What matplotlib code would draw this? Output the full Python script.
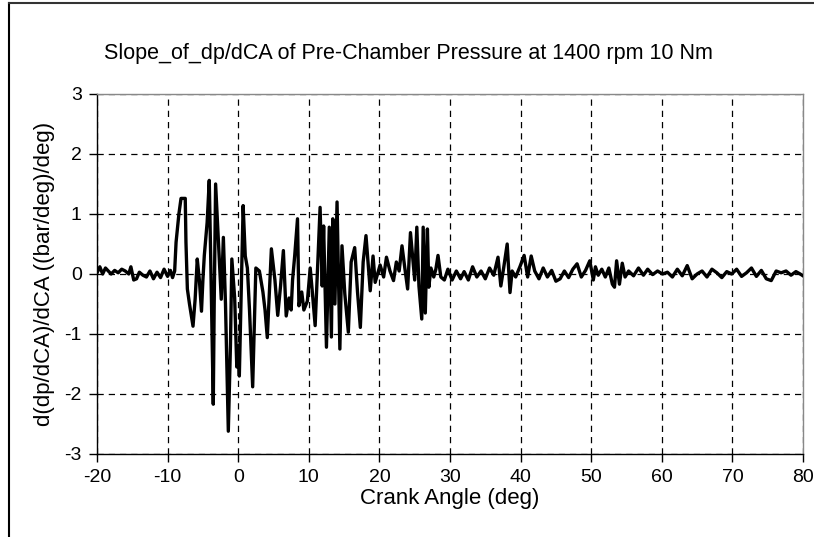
import matplotlib
matplotlib.use("Agg")
import matplotlib.pyplot as plt
from matplotlib.lines import Line2D

plt.rcParams['font.family'] = ['Liberation Sans', 'DejaVu Sans']

title = "Slope_of_dp/dCA of Pre-Chamber Pressure at 1400 rpm 10 Nm"
x_label = "Crank Angle (deg)"
y_label = "d(dp/dCA)/dCA ((bar/deg)/deg)"
x_ticks = [-20, -10, 0, 10, 20, 30, 40, 50, 60, 70, 80]
y_ticks = [-3, -2, -1, 0, 1, 2, 3]

crank_angle = [
    -20.0, -19.6, -19.2, -18.8, -18.4, -18.0, -17.5, -17.0, -16.5, -16.0,
    -15.5, -15.2, -14.8, -14.4, -14.0, -13.5, -13.0, -12.5, -12.0, -11.5,
    -11.0, -10.5, -10.0, -9.6, -9.3, -9.0, -8.8, -8.4, -8.1, -7.5,
    -7.4, -7.2, -6.9, -6.4, -6.1, -5.8, -5.5, -5.2, -5.0,
    -4.8, -4.4, -4.1, -3.9, -3.53, -3.4, -3.2, -2.9, -2.7, -2.4,
    -2.1, -1.8, -1.4, -1.1, -0.9, -0.5, -0.2, 0.0, 0.16, 0.45,
    0.7, 1.0, 1.3, 1.6, 2.05, 2.5, 3.0, 3.5, 3.8, 4.12,
    4.7, 5.2, 5.6, 6.0, 6.4, 6.8, 7.2, 7.5, 7.7, 8.0,
    8.4, 8.6, 9.0, 9.3, 9.8, 10.2, 10.5, 10.9, 11.2, 11.6,
    11.9, 12.1, 12.5, 12.9, 13.2, 13.4, 13.7, 14.0, 14.4, 14.7,
    15.1, 15.6, 16.0, 16.5, 16.9, 17.3, 17.7, 18.1, 18.7, 19.1,
    19.4, 20.1, 20.6, 21.0, 21.5, 22.0, 22.4, 22.8, 23.2, 23.6,
    24.0, 24.4, 25.0, 25.3, 25.6, 26.0, 26.2, 26.5, 26.8, 27.0,
    27.3, 27.7, 28.0, 28.3, 28.7, 29.2, 29.7, 30.3, 30.9, 31.5,
    32.0, 32.6, 33.2, 33.8, 34.4, 35.0, 35.6, 36.2, 36.8, 37.2,
    37.6, 38.1, 38.5, 38.8, 39.3, 39.9, 40.5, 41.0, 41.5, 42.0,
    42.6, 43.2, 43.8, 44.4, 45.0, 45.6, 46.2, 46.8, 47.4, 48.0,
    48.6, 49.2, 49.8, 50.3, 50.6, 51.0, 51.5, 52.0, 52.5, 53.0,
    53.3, 53.6, 54.0, 54.4, 54.8, 55.3, 56.0, 56.7, 57.4, 58.0,
    58.7, 59.4, 60.1, 60.8, 61.5, 62.2, 62.9, 63.6, 64.3, 65.0,
    65.7, 66.4, 67.1, 67.8, 68.5, 69.2, 69.9, 70.6, 71.3, 72.0,
    72.7, 73.4, 74.1, 74.8, 75.5, 76.2, 76.9, 77.6, 78.3, 79.0,
    79.6, 80.0,
]

slope = [
    0.02, 0.12, 0.00, 0.10, 0.05, 0.00, 0.06, 0.02, 0.08, 0.05,
    0.00, 0.12, -0.10, -0.08, 0.03, -0.02, -0.05, 0.05, -0.08, 0.03,
    -0.06, 0.08, -0.04, 0.06, -0.06, 0.05, 0.53, 1.00, 1.26, 1.26,
    0.53, -0.25, -0.50, -0.87, -0.42, 0.25, -0.10, -0.62, -0.10,
    0.31, 0.86, 1.56, 0.30, -2.17, -0.50, 1.50, 0.80, 0.30, -0.42,
    0.61, -0.50, -2.62, -1.20, 0.25, -0.40, -1.55, -1.20, -1.70, -0.20,
    1.14, 0.30, 0.10, -0.60, -1.88, 0.10, 0.05, -0.30, -0.60, -1.06,
    0.42, -0.10, -0.69, -0.20, 0.39, -0.70, -0.40, -0.60, -0.10, 0.30,
    0.92, -0.53, -0.30, -0.60, -0.45, 0.10, -0.30, -0.86, 0.00, 1.11,
    -0.20, 0.80, -1.22, 0.78, -1.05, 0.92, -0.50, 1.20, -1.25, 0.47,
    -0.33, -0.97, 0.20, 0.44, -0.30, -0.89, 0.20, 0.64, -0.28, 0.30,
    -0.14, 0.15, -0.05, 0.28, 0.05, -0.11, 0.20, 0.05, 0.47, 0.10,
    -0.25, 0.69, -0.10, 0.78, -0.20, -0.75, 0.78, -0.65, 0.75, -0.22,
    0.10, -0.05, 0.08, 0.31, -0.05, -0.10, 0.08, -0.10, 0.05, -0.08,
    0.04, -0.10, 0.12, -0.05, 0.05, -0.08, 0.10, -0.02, 0.28, -0.20,
    0.10, 0.50, -0.31, 0.05, -0.05, 0.12, 0.31, -0.05, 0.30, 0.05,
    -0.08, 0.10, -0.05, 0.06, -0.12, -0.08, 0.05, -0.06, 0.08, 0.17,
    -0.05, 0.06, 0.22, -0.10, 0.12, -0.02, 0.08, -0.05, 0.10, -0.17,
    -0.22, 0.22, -0.17, 0.18, -0.05, 0.05, -0.03, 0.10, -0.02, 0.08,
    -0.01, 0.05, 0.00, 0.03, -0.05, 0.08, -0.03, 0.14, -0.08, 0.00,
    0.05, -0.05, 0.08, 0.02, -0.06, 0.04, 0.00, 0.08, -0.04, 0.02,
    0.10, -0.04, 0.06, -0.08, -0.11, 0.05, 0.02, 0.05, -0.02, 0.04,
    0.00, -0.03,
]

fig = plt.figure(figsize=(8.14, 5.37), dpi=100)
ax = fig.add_axes([97 / 814, 1 - 454 / 537, 706 / 814, 360 / 537])

ax.plot(crank_angle, slope, color='black', lw=2.4, solid_joinstyle='round', zorder=3)

ax.set_xlim(x_ticks[0], x_ticks[-1])
ax.set_ylim(y_ticks[0], y_ticks[-1])
ax.set_xticks(x_ticks)
ax.set_yticks(y_ticks)
ax.set_xticklabels([str(v) for v in x_ticks])
ax.set_yticklabels([str(v) for v in y_ticks])
ax.tick_params(direction='out', length=6, width=1, labelsize=14, color='black', pad=5)

ax.grid(True, color='black', linestyle=(0, (5, 4)), linewidth=0.9)
ax.set_axisbelow(True)

for side in ('top', 'right'):
    ax.spines[side].set_color('#888888')
for side in ('left', 'bottom'):
    ax.spines[side].set_color('black')
for sp in ax.spines.values():
    sp.set_linewidth(1.0)

ax.set_xlabel(x_label, fontsize=16, labelpad=1)
ax.set_ylabel(y_label, fontsize=16, labelpad=7)
fig.text(408 / 814, 1 - 54 / 537, title, fontsize=15.5, ha='center', va='center')

# chart frame edges
fig.add_artist(Line2D([9 / 814, 9 / 814], [0, 1 - 3 / 537], color='black', lw=1.5))
fig.add_artist(Line2D([9 / 814, 1], [1 - 3 / 537, 1 - 3 / 537], color='#333333', lw=1.5))

fig.savefig('out.png', dpi=100)
